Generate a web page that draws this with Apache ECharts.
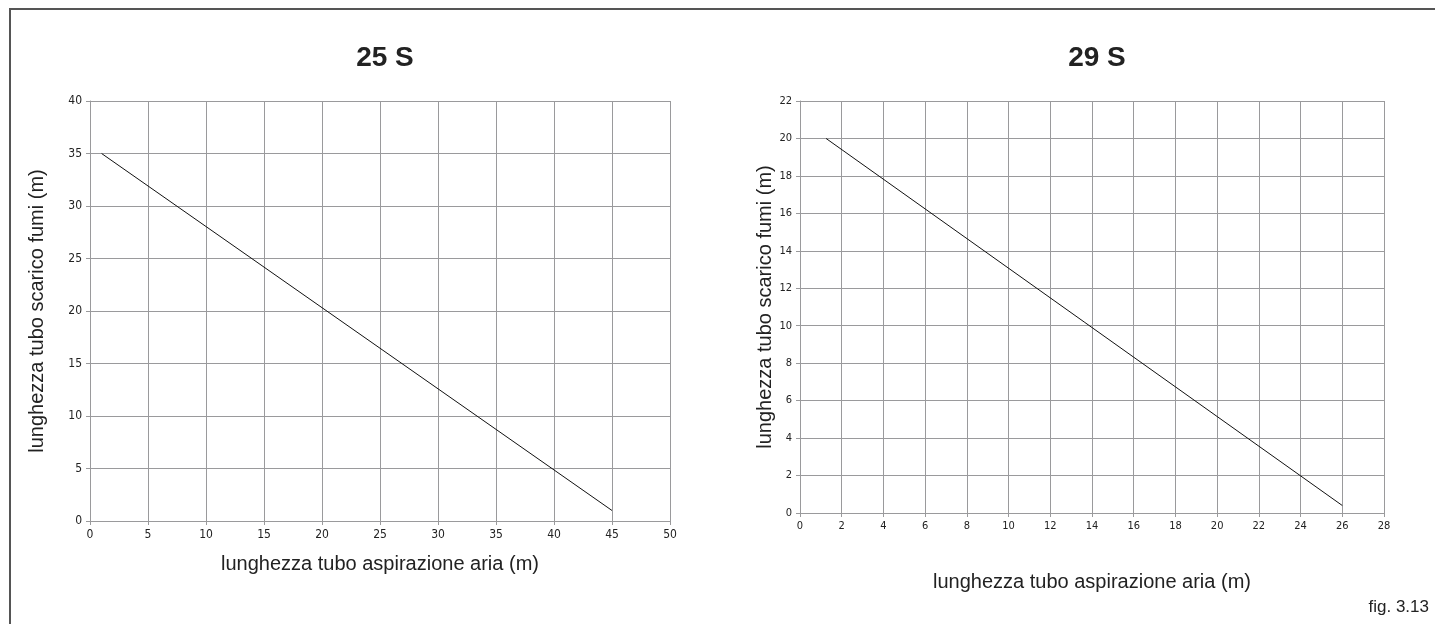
<!DOCTYPE html>
<html>
<head>
<meta charset="utf-8">
<script src="https://cdn.jsdelivr.net/npm/echarts@6/dist/echarts.min.js"></script>
<style>
html,body{margin:0;padding:0;background:#fff;}
#chart{width:1435px;height:624px;}
</style>
</head>
<body>
<div id="chart"></div>
<script>
// Data
const titles = ['25 S', '29 S'];
const xAxisName = 'lunghezza tubo aspirazione aria (m)';
const yAxisName = 'lunghezza tubo scarico fumi (m)';
const figLabel = 'fig. 3.13';
const line25S = [[1, 35], [45, 1]];
const line29S = [[1.25, 20], [26, 0.4]];
const xRange25S = [0, 50, 5];
const yRange25S = [0, 40, 5];
const xRange29S = [0, 28, 2];
const yRange29S = [0, 22, 2];

const chart = echarts.init(document.getElementById('chart'));
const tickFont = "'Liberation Sans Narrow','DejaVu Sans Condensed','Open Sans',sans-serif";
const textFont = "'Liberation Sans',Arial,sans-serif";
const gridColor = '#9a9a9c';

function xAxis(idx, r, fs, nameGap) {
  return {
    type: 'value', gridIndex: idx, min: r[0], max: r[1], interval: r[2],
    name: xAxisName, nameLocation: 'middle', nameGap: nameGap,
    nameTextStyle: {fontFamily: textFont, fontSize: 20, color: '#222'},
    axisLine: {show: true, lineStyle: {color: gridColor, width: 1}},
    axisTick: {show: true, length: 4, lineStyle: {color: gridColor}},
    axisLabel: {fontFamily: tickFont, fontSize: fs, color: '#222', margin: 8},
    splitLine: {show: true, lineStyle: {color: gridColor, width: 1}}
  };
}
function yAxis(idx, r, fs, nameGap) {
  return {
    type: 'value', gridIndex: idx, min: r[0], max: r[1], interval: r[2],
    name: yAxisName, nameLocation: 'middle', nameGap: nameGap, nameRotate: 90,
    nameTextStyle: {fontFamily: textFont, fontSize: 20, color: '#222'},
    axisLine: {show: true, lineStyle: {color: gridColor, width: 1}},
    axisTick: {show: true, length: 4, lineStyle: {color: gridColor}},
    axisLabel: {fontFamily: tickFont, fontSize: fs, color: '#222', margin: 8},
    splitLine: {show: true, lineStyle: {color: gridColor, width: 1}}
  };
}

chart.setOption({
  backgroundColor: '#fff',
  animation: false,
  title: [
    {text: titles[0], left: 380, top: 39, textAlign: 'center',
     textStyle: {fontFamily: textFont, fontSize: 28, fontWeight: 'bold', color: '#222'}},
    {text: titles[1], left: 1092, top: 39, textAlign: 'center',
     textStyle: {fontFamily: textFont, fontSize: 28, fontWeight: 'bold', color: '#222'}}
  ],
  grid: [
    {left: 90, top: 101, width: 580, height: 420},
    {left: 800, top: 101, width: 584, height: 412}
  ],
  xAxis: [xAxis(0, xRange25S, 12, 33), xAxis(1, xRange29S, 11, 59)],
  yAxis: [yAxis(0, yRange25S, 12, 43), yAxis(1, yRange29S, 11, 25)],
  series: [
    {type: 'line', xAxisIndex: 0, yAxisIndex: 0, data: line25S, symbol: 'none',
     lineStyle: {color: '#111', width: 1}},
    {type: 'line', xAxisIndex: 1, yAxisIndex: 1, data: line29S, symbol: 'none',
     lineStyle: {color: '#111', width: 1}}
  ],
  graphic: [
    {type: 'rect', shape: {x: 10, y: 9, width: 1440, height: 640},
     style: {fill: 'none', stroke: '#555', lineWidth: 2}},
    {type: 'text', right: 6, top: 599,
     style: {text: figLabel, fontFamily: textFont, fontSize: 17, fill: '#222'}}
  ]
});
</script>
</body>
</html>
